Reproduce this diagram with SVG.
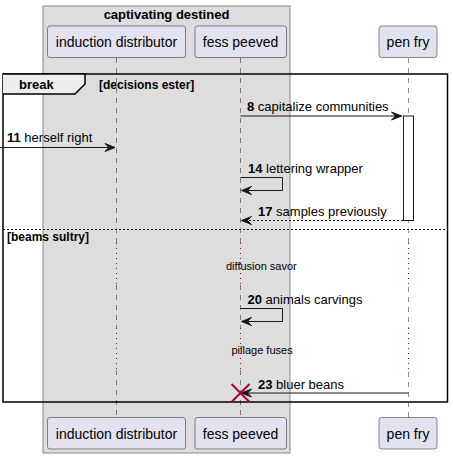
<svg xmlns="http://www.w3.org/2000/svg" width="453" height="459" viewBox="0 0 453 459">
<defs>
<style>
.t{font-family:"Liberation Sans",Arial,sans-serif;fill:#000}
.p{font-size:14px}
.m{font-size:13px}
.b{font-weight:bold}
.s{font-size:11px}
.g{font-size:12px}
.life{stroke:#181818;stroke-width:0.5;stroke-dasharray:5,5;fill:none}
.delay{stroke:#A80036;stroke-width:1;stroke-dasharray:1,4;fill:none}
.pbox{fill:#E2E2F0;stroke:#181818;stroke-width:0.5}
.msg{stroke:#181818;stroke-width:1;fill:none}
.ah{fill:#181818;stroke:#181818;stroke-width:1}
</style>
</defs>
<rect width="453" height="459" fill="#FFFFFF"/>
<g id="box-captivating-destined">
<rect x="43" y="6" width="247" height="447" fill="#DDDDDD" stroke="#888888" stroke-width="1"/>
<text class="t b m" x="166.5" y="19" text-anchor="middle">captivating destined</text>
</g>
<g id="lifelines">
<line class="life" x1="116.5" y1="58" x2="116.5" y2="243"/>
<line class="delay" x1="116.5" y1="243" x2="116.5" y2="285"/>
<line class="life" x1="116.5" y1="285" x2="116.5" y2="328"/>
<line class="delay" x1="116.5" y1="328" x2="116.5" y2="370"/>
<line class="life" x1="116.5" y1="370" x2="116.5" y2="417"/>
<line class="life" x1="240.5" y1="58" x2="240.5" y2="243"/>
<line class="delay" x1="240.5" y1="243" x2="240.5" y2="285"/>
<line class="life" x1="240.5" y1="285" x2="240.5" y2="328"/>
<line class="delay" x1="240.5" y1="328" x2="240.5" y2="370"/>
<line class="life" x1="240.5" y1="370" x2="240.5" y2="417"/>
<line class="life" x1="408.5" y1="58" x2="408.5" y2="243"/>
<line class="delay" x1="408.5" y1="243" x2="408.5" y2="287"/>
<line class="life" x1="408.5" y1="287" x2="408.5" y2="328"/>
<line class="delay" x1="408.5" y1="328" x2="408.5" y2="372"/>
<line class="life" x1="408.5" y1="372" x2="408.5" y2="417"/>
</g>
<g id="induction-distributor">
<rect class="pbox" x="47.5" y="26" width="138" height="31.5" rx="2.5"/>
<text class="t p" x="116.5" y="47" text-anchor="middle">induction distributor</text>
<rect class="pbox" x="47.5" y="417.5" width="138" height="31.5" rx="2.5"/>
<text class="t p" x="116.5" y="438.5" text-anchor="middle">induction distributor</text>
</g>
<g id="fess-peeved">
<rect class="pbox" x="195" y="26" width="91.5" height="31.5" rx="2.5"/>
<text class="t p" x="240.5" y="47" text-anchor="middle">fess peeved</text>
<rect class="pbox" x="195" y="417.5" width="91.5" height="31.5" rx="2.5"/>
<text class="t p" x="240.5" y="438.5" text-anchor="middle">fess peeved</text>
</g>
<g id="pen-fry">
<rect class="pbox" x="379" y="26" width="58" height="31.5" rx="2.5"/>
<text class="t p" x="408" y="47" text-anchor="middle">pen fry</text>
<rect class="pbox" x="379" y="417.5" width="58" height="31.5" rx="2.5"/>
<text class="t p" x="408" y="438.5" text-anchor="middle">pen fry</text>
<rect x="403.5" y="116" width="10" height="104.5" fill="#FFFFFF" stroke="#181818" stroke-width="1"/>
</g>
<g id="break-fragment">
<rect x="3" y="74" width="444.5" height="328" fill="none" stroke="#000000" stroke-width="1.5"/>
<path d="M3,74 L85,74 L85,84 L75,94 L3,94" fill="#EEEEEE" stroke="#000000" stroke-width="1.5"/>
<text class="t b m" x="19" y="89">break</text>
<text class="t b g" x="99" y="88.5">[decisions ester]</text>
<line x1="3" y1="229.5" x2="447.5" y2="229.5" stroke="#000000" stroke-width="1" stroke-dasharray="2,2"/>
<text class="t b g" x="7" y="241">[beams sultry]</text>
</g>
<g id="connectors">
<line class="msg" x1="240.5" y1="116" x2="402" y2="116"/>
<polygon class="ah" points="391.5,112 401.5,116 391.5,120 395.5,116"/>
<text class="t m" x="247" y="111"><tspan class="b">8</tspan> capitalize communities</text>

<line class="msg" x1="0" y1="147.5" x2="115" y2="147.5"/>
<polygon class="ah" points="105,143.5 115,147.5 105,151.5 109,147.5"/>
<text class="t m" x="7" y="142"><tspan class="b">11</tspan> herself right</text>

<polyline class="msg" points="240.5,177.5 282.5,177.5 282.5,190.5 241.5,190.5"/>
<polygon class="ah" points="251.5,186.5 241.5,190.5 251.5,194.5 247.5,190.5"/>
<text class="t m" x="248" y="173"><tspan class="b">14</tspan> lettering wrapper</text>

<line class="msg" x1="403" y1="220.5" x2="242" y2="220.5" stroke-dasharray="2,2"/>
<polygon class="ah" points="251.5,216.5 241.5,220.5 251.5,224.5 247.5,220.5"/>
<text class="t m" x="258" y="216"><tspan class="b">17</tspan> samples previously</text>

<text class="t s" x="226" y="269.5">diffusion savor</text>

<polyline class="msg" points="240.5,308.5 282.5,308.5 282.5,321.5 241.5,321.5"/>
<polygon class="ah" points="251.5,317.5 241.5,321.5 251.5,325.5 247.5,321.5"/>
<text class="t m" x="247.5" y="304"><tspan class="b">20</tspan> animals carvings</text>

<text class="t s" x="231.5" y="354">pillage fuses</text>

<line class="msg" x1="408.5" y1="393" x2="242" y2="393"/>
<polygon class="ah" points="251.5,389 241.5,393 251.5,397 247.5,393"/>
<text class="t m" x="258" y="388.5"><tspan class="b">23</tspan> bluer beans</text>
<path d="M231.5,384 L249.5,402 M231.5,402 L249.5,384" stroke="#A80036" stroke-width="2" fill="none"/>
</g>
</svg>
